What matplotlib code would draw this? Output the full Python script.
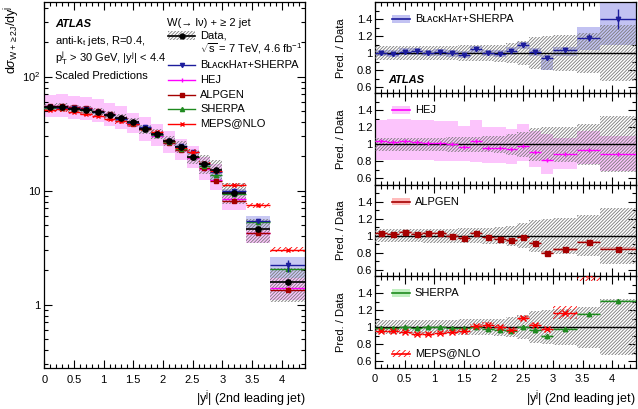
import numpy as np
import matplotlib
matplotlib.use("Agg")
import matplotlib.pyplot as plt
from matplotlib.patches import Rectangle
from matplotlib.lines import Line2D
from matplotlib.ticker import FixedLocator, MultipleLocator, FuncFormatter, LogLocator, NullFormatter

plt.rcParams['font.family'] = ['Liberation Sans', 'DejaVu Sans']
plt.rcParams['mathtext.fontset'] = 'custom'
plt.rcParams['mathtext.rm'] = 'Liberation Sans'
plt.rcParams['mathtext.it'] = 'Liberation Sans:italic'
plt.rcParams['mathtext.bf'] = 'Liberation Sans:bold'
plt.rcParams['mathtext.sf'] = 'Liberation Sans'
plt.rcParams['hatch.linewidth'] = 0.6

# ---------------- data ----------------
bin_edges = [0.0, 0.2, 0.4, 0.6, 0.8, 1.0, 1.2, 1.4, 1.6, 1.8, 2.0, 2.2, 2.4,
             2.6, 2.8, 3.0, 3.4, 3.8, 4.4]
data_xsec = [53.7, 54.0, 52.2, 51.2, 48.8, 45.9, 43.0, 39.6, 34.4, 31.5, 27.3,
             24.2, 19.8, 17.1, 15.3, 9.6, 4.57, 1.58]
data_stat = [0.01, 0.01, 0.01, 0.01, 0.01, 0.01, 0.01, 0.012, 0.012, 0.012, 0.014,
             0.015, 0.017, 0.02, 0.02, 0.02, 0.03, 0.04]
data_unc = [0.078, 0.078, 0.078, 0.078, 0.08, 0.08, 0.085, 0.09, 0.09, 0.095, 0.10,
            0.12, 0.145, 0.19, 0.20, 0.21, 0.24, 0.33]

bh_ratio = [1.00, 0.99, 1.015, 1.02, 1.0, 1.01, 0.995, 0.98, 1.045, 1.0, 0.99, 1.02,
            1.09, 1.01, 0.945, 1.035, 1.18, 1.40]
bh_lo = [0.96, 0.95, 0.975, 0.98, 0.96, 0.97, 0.955, 0.94, 1.005, 0.96, 0.95, 0.975,
         1.045, 0.965, 0.80, 0.97, 1.03, 1.09]
bh_hi = [1.04, 1.03, 1.055, 1.06, 1.04, 1.05, 1.035, 1.02, 1.085, 1.04, 1.03, 1.065,
         1.13, 1.055, 0.975, 1.07, 1.31, 1.65]
bh_stat = [0.008, 0.008, 0.008, 0.008, 0.008, 0.008, 0.008, 0.01, 0.01, 0.01, 0.01,
           0.012, 0.015, 0.015, 0.02, 0.02, 0.04, 0.12]

hej_ratio = [1.035, 1.03, 1.035, 1.03, 1.02, 1.015, 1.01, 0.97, 1.035, 0.96, 0.96,
             0.94, 0.98, 0.91, 0.815, 0.885, 0.93, 0.885]
hej_lo = [0.82, 0.82, 0.82, 0.815, 0.815, 0.80, 0.80, 0.80, 0.79, 0.78, 0.78, 0.765,
          0.80, 0.73, 0.655, 0.71, 0.765, 0.69]
hej_hi = [1.29, 1.30, 1.30, 1.29, 1.29, 1.27, 1.27, 1.22, 1.29, 1.21, 1.21, 1.18,
          1.24, 1.16, 1.12, 1.08, 1.16, 1.10]

alp_ratio = [1.03, 1.02, 1.045, 1.025, 1.03, 1.03, 1.0, 0.975, 1.03, 0.985, 0.965,
             0.945, 0.99, 0.915, 0.80, 0.84, 0.925, 0.85]
sh_ratio = [0.99, 0.99, 1.0, 0.99, 1.0, 1.0, 0.99, 0.99, 1.0, 0.98, 0.97, 0.96, 1.0,
            0.97, 0.89, 0.98, 1.155, 1.31]
meps_ratio = [0.955, 0.955, 0.945, 0.92, 0.92, 0.93, 0.94, 0.96, 1.01, 1.03, 1.0,
              0.97, 1.11, 1.02, 0.975, 1.17, 1.62, 1.92]

# ---------------- style ----------------
C_BH, C_BH_B = '#1c1c9c', '#c2c2f2'
C_HEJ, C_HEJ_B = '#ff00ff', '#fcc4fc'
C_ALP, C_ALP_B = '#a50000', '#ffbcbc'
C_SH, C_SH_B = '#1f8a1f', '#c2f0c2'
C_ME = '#ff0000'
C_HATCH = '#7a7a7a'
HATCH = '/' * 10
FS = 8

edges = np.array(bin_edges)
x0, x1 = edges[:-1], edges[1:]
xc, xw = (x0 + x1) / 2, x1 - x0
dat = np.array(data_xsec)
dunc = np.array(data_unc)

W, H = 638, 409
fig = plt.figure(figsize=(W / 100, H / 100), dpi=100)


def px_rect(l, t, r, b):
    return [l / W, 1 - b / H, (r - l) / W, (b - t) / H]


def style_axis(ax):
    ax.tick_params(which='both', direction='in', top=True, right=True, labelsize=FS)
    ax.tick_params(which='major', length=6, width=0.8)
    ax.tick_params(which='minor', length=3, width=0.8)
    for s in ax.spines.values():
        s.set_linewidth(0.9)
    ax.set_xlim(0, 4.4)
    ax.xaxis.set_major_locator(MultipleLocator(0.5))
    ax.xaxis.set_minor_locator(MultipleLocator(0.1))
    ax.xaxis.set_major_formatter(FuncFormatter(lambda v, p: '%g' % v))


def draw_pred(ax, vals, stat, color, marker, ms, z=5, lw=1.0, mfc=None):
    ax.hlines(vals, x0, x1, colors=color, lw=lw, zorder=z)
    ax.errorbar(xc, vals, yerr=stat, fmt=marker, color=color, ms=ms, mew=1.0,
                mfc=mfc if mfc else color, elinewidth=lw, capsize=0, zorder=z + 0.1)


# ---------------- main panel ----------------
axm = fig.add_axes(px_rect(44.3, 2, 305.3, 367.7))
style_axis(axm)
axm.set_yscale('log')
axm.set_ylim(0.28, 450)
axm.yaxis.set_major_locator(FixedLocator([1, 10, 100]))
axm.yaxis.set_minor_locator(LogLocator(base=10, subs=np.arange(2, 10)))
axm.yaxis.set_minor_formatter(NullFormatter())
axm.yaxis.set_major_formatter(FuncFormatter(
    lambda v, p: {1: '1', 10: '10', 100: r'$\mathregular{10^{2}}$'}.get(int(round(v)), '')))
axm.tick_params(axis='x', pad=5)
axm.tick_params(axis='y', pad=2.5)

bh = dat * np.array(bh_ratio)
hej = dat * np.array(hej_ratio)
alp = dat * np.array(alp_ratio)
sh = dat * np.array(sh_ratio)
me = dat * np.array(meps_ratio)

axm.bar(xc, dat * (np.array(hej_hi) - np.array(hej_lo)), bottom=dat * np.array(hej_lo),
        width=xw, color=C_HEJ_B, lw=0, zorder=1)
axm.bar(xc, dat * (np.array(bh_hi) - np.array(bh_lo)), bottom=dat * np.array(bh_lo),
        width=xw, color=C_BH_B, lw=0, alpha=0.9, zorder=1.5)
axm.bar(xc, me * 0.09, bottom=me * 0.955, width=xw, facecolor='none', edgecolor=C_ME,
        hatch='//////', lw=0, zorder=2)
axm.bar(xc, dat * 2 * dunc, bottom=dat * (1 - dunc), width=xw, facecolor='none',
        edgecolor=C_HATCH, hatch=HATCH, lw=0, zorder=3)

draw_pred(axm, hej, hej * 0.01, C_HEJ, '|', 3, z=4)
draw_pred(axm, alp, alp * 0.01, C_ALP, 's', 3, z=4.2)
draw_pred(axm, sh, sh * 0.01, C_SH, '^', 3, z=4.4)
draw_pred(axm, bh, bh * np.array(bh_stat), C_BH, 'v', 3, z=4.6)
draw_pred(axm, me, me * 0.01, C_ME, 'x', 3.5, z=4.8)
axm.errorbar(xc, dat, xerr=xw / 2, yerr=dat * np.array(data_stat), fmt='o', color='k',
             ms=3.8, elinewidth=1.2, capsize=0, zorder=6)

axm.set_ylabel(r'd$\sigma_{\mathregular{W+\geq 2J}}$/dy$^{\mathregular{j}}$', fontsize=9, loc='top')
axm.yaxis.set_label_coords(-0.085, 0.99)
axm.set_xlabel(r'|y$^{\mathregular{j}}$| (2nd leading jet)', fontsize=9, loc='right')
axm.xaxis.set_label_coords(1.0, -0.058)


def fx(px):
    return (px - 44.3) / 261.0


def fy(py):
    return 1 - (py - 2) / 365.7


T = axm.transAxes
axm.text(fx(55), fy(23.7), 'ATLAS', transform=T, fontsize=FS, fontweight='bold',
         style='italic', va='center')
axm.text(fx(55), fy(41), r'anti-k$_{\mathregular{t}}$ jets, R=0.4,', transform=T,
         fontsize=FS, va='center')
axm.text(fx(55), fy(58), r'p$_{\mathregular{T}}^{\mathregular{j}}$ > 30 GeV, |y$^{\mathregular{j}}$| < 4.4',
         transform=T, fontsize=FS, va='center')
axm.text(fx(55), fy(76), 'Scaled Predictions', transform=T, fontsize=FS, va='center')

axm.text(fx(166.7), fy(22.5), 'W(→ lν) + ≥ 2 jet', transform=T, fontsize=FS,
         va='center')
lx0, lx1, tx = fx(168), fx(195), fx(200)
# data legend entry
yd = fy(35.5)
axm.add_patch(Rectangle((lx0, yd - 0.011), lx1 - lx0, 0.022, transform=T, facecolor='none',
                        edgecolor=C_HATCH, hatch=HATCH, lw=0, zorder=7))
axm.add_line(Line2D([lx0, lx1], [yd, yd], transform=T, color='k', lw=1.2, zorder=8))
axm.add_line(Line2D([(lx0 + lx1) / 2], [yd], transform=T, color='k', marker='o', ms=3.5, zorder=8))
axm.text(tx, yd, 'Data,', transform=T, fontsize=FS, va='center')
axm.text(tx, fy(49), r'$\sqrt{\mathregular{s}}$ = 7 TeV, 4.6 fb$^{\mathregular{-1}}$', transform=T,
         fontsize=FS, va='center')
entries = [
    ('BʟᴀᴄᴋHᴀᴛ+SHERPA', C_BH, 'v', 65),
    ('HEJ', C_HEJ, '|', 80),
    ('ALPGEN', C_ALP, 's', 95),
    ('SHERPA', C_SH, '^', 109),
    ('MEPS@NLO', C_ME, 'x', 123.5),
]
for lab, col, mk, py in entries:
    yy = fy(py)
    axm.add_line(Line2D([lx0, lx1], [yy, yy], transform=T, color=col, lw=1.0, zorder=8))
    axm.add_line(Line2D([(lx0 + lx1) / 2], [yy], transform=T, color=col, marker=mk, ms=3,
                        zorder=8))
    axm.text(tx, yy, lab, transform=T, fontsize=FS, va='center')

# ---------------- ratio panels ----------------
top, bot = 2.0, 367.5
ph = (bot - top) / 4
axes_r = []
for k in range(4):
    t = top + k * ph
    ax = fig.add_axes(px_rect(375, t, 636, t + ph))
    style_axis(ax)
    ax.set_ylim(0.525, 1.6)
    ax.yaxis.set_major_locator(FixedLocator([0.6, 0.8, 1.0, 1.2, 1.4]))
    ax.yaxis.set_minor_locator(MultipleLocator(0.1))
    ax.yaxis.set_major_formatter(FuncFormatter(lambda v, p: '%g' % round(v, 2)))
    ax.tick_params(axis='y', pad=2)
    ax.tick_params(axis='x', pad=5)
    ax.set_ylabel('Pred. / Data', fontsize=FS)
    ax.yaxis.set_label_coords(-0.113, 0.5)
    if k < 3:
        ax.tick_params(axis='x', labelbottom=False)
    # data uncertainty band
    ax.bar(xc, 2 * dunc, bottom=1 - dunc, width=xw, facecolor='none', edgecolor=C_HATCH,
           hatch=HATCH, lw=0, zorder=3)
    ax.axhline(1.0, color='k', lw=1.0, zorder=4)
    axes_r.append(ax)

a1, a2, a3, a4 = axes_r
a4.set_xlabel(r'|y$^{\mathregular{j}}$| (2nd leading jet)', fontsize=9, loc='right')
a4.xaxis.set_label_coords(1.0, -0.235)

# BlackHat
a1.bar(xc, np.array(bh_hi) - np.array(bh_lo), bottom=bh_lo, width=xw, color=C_BH_B, lw=0, zorder=2)
draw_pred(a1, bh_ratio, bh_stat, C_BH, 'v', 3.2)
# HEJ
a2.bar(xc, np.array(hej_hi) - np.array(hej_lo), bottom=hej_lo, width=xw, color=C_HEJ_B, lw=0, zorder=2)
draw_pred(a2, hej_ratio, 0.012, C_HEJ, '|', 3.5)
# ALPGEN
a3.bar(xc, 0.03, bottom=np.array(alp_ratio) - 0.015, width=xw, color=C_ALP_B, lw=0, zorder=2)
draw_pred(a3, alp_ratio, 0.01, C_ALP, 's', 3.6)
# SHERPA + MEPS
a4.bar(xc, 0.03, bottom=np.array(sh_ratio) - 0.015, width=xw, color=C_SH_B, lw=0, zorder=2)
a4.bar(xc, 0.05, bottom=np.array(meps_ratio) - 0.025, width=xw, facecolor='none', edgecolor=C_ME,
       hatch='//////', lw=0, zorder=2.5)
draw_pred(a4, sh_ratio, 0.01, C_SH, '^', 3.2, z=5)
draw_pred(a4, meps_ratio, 0.01, C_ME, 'x', 4, z=5.5)
a4.bar(xc[-3:-1], 0.16, bottom=np.array(meps_ratio[-3:-1]) - 0.08, width=xw[-3:-1],
       facecolor='none', edgecolor=C_ME, hatch='//////', lw=0, zorder=2.5)


def legend_patch(ax, yfrac, label, band, line, hatch=None):
    Ta = ax.transAxes
    lx0, lx1 = 0.064, 0.134
    h = 0.085
    if hatch:
        ax.add_patch(Rectangle((lx0, yfrac - h / 2), lx1 - lx0, h, transform=Ta,
                               facecolor='none', edgecolor=band, hatch=hatch, lw=0, zorder=8))
    else:
        ax.add_patch(Rectangle((lx0, yfrac - h / 2), lx1 - lx0, h, transform=Ta,
                               facecolor=band, lw=0, zorder=8))
    ax.add_line(Line2D([lx0, lx1], [yfrac, yfrac], transform=Ta, color=line, lw=1.2, zorder=9))
    ax.text(0.153, yfrac, label, transform=Ta, fontsize=FS, va='center', zorder=9)


legend_patch(a1, 0.816, 'BʟᴀᴄᴋHᴀᴛ+SHERPA', C_BH_B, C_BH)
legend_patch(a2, 0.816, 'HEJ', C_HEJ_B, C_HEJ)
legend_patch(a3, 0.816, 'ALPGEN', C_ALP_B, C_ALP)
legend_patch(a4, 0.816, 'SHERPA', C_SH_B, C_SH)
legend_patch(a4, 0.153, 'MEPS@NLO', C_ME, C_ME, hatch='//////')
a1.text(0.05, 0.146, 'ATLAS', transform=a1.transAxes, fontsize=FS, fontweight='bold',
        style='italic', va='center')

fig.savefig('out.png', dpi=100)
